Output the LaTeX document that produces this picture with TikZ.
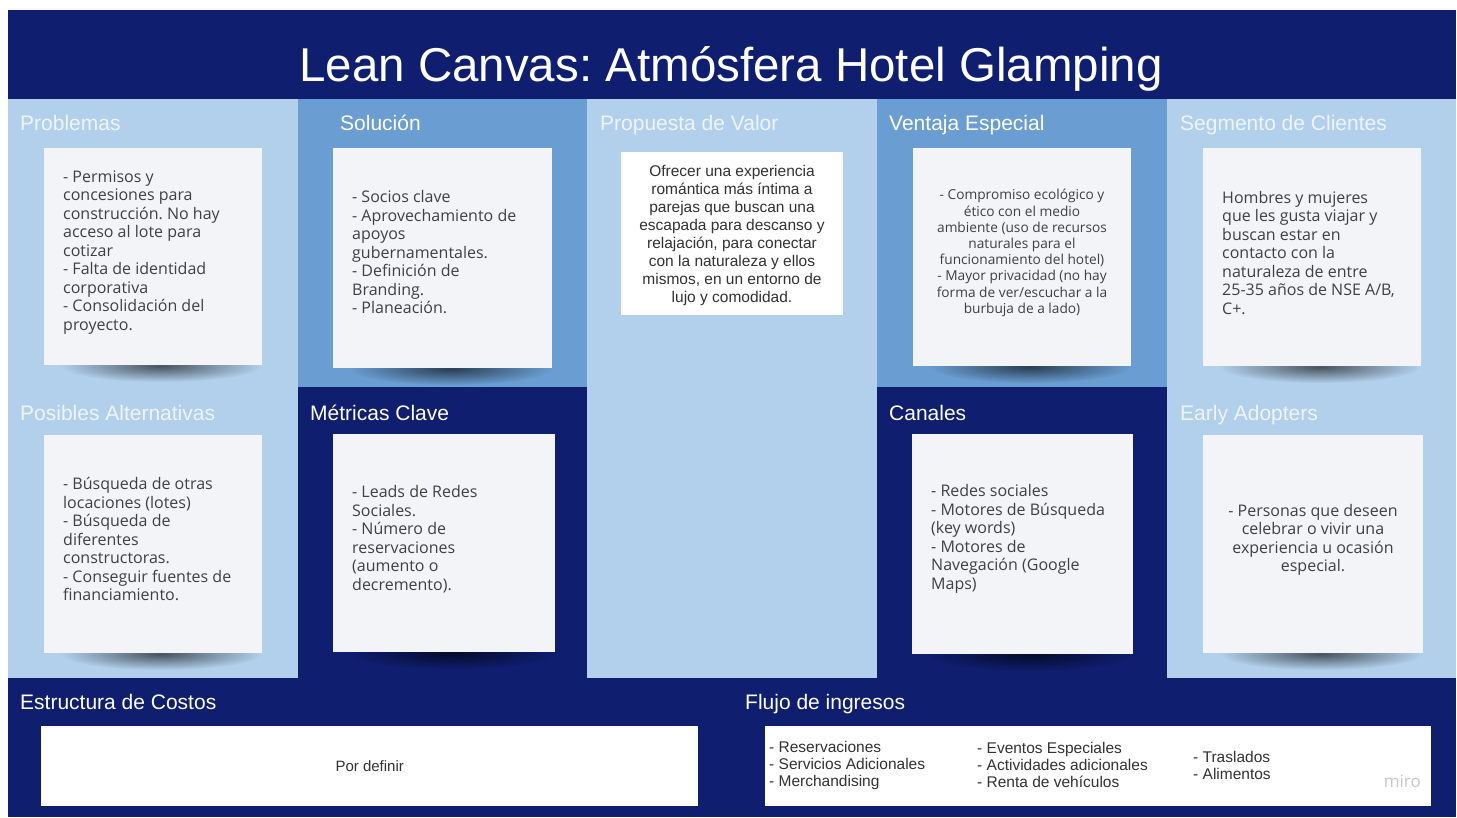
\documentclass[tikz,border=0pt]{standalone}
\usepackage{fontspec}
\usetikzlibrary{fadings}
\setmainfont{Liberation Sans}
\newfontfamily\notefont{Open Sans}
\definecolor{navy}{RGB}{15,30,110}
\definecolor{lblue}{RGB}{178,208,236}
\definecolor{mblue}{RGB}{106,157,209}
\definecolor{notebg}{RGB}{243,244,247}
\definecolor{notetx}{RGB}{64,64,64}
\definecolor{hdrlight}{RGB}{238,244,250}
\definecolor{proptx}{RGB}{50,50,50}
\tikzfading[name=shfade, inner color=transparent!40, outer color=transparent!100]
\newcommand{\noteshadow}[4]{%
  \fill[black, path fading=shfade] ({(#1+#3)/2+8},{#4+1}) ellipse ({(#3-#1)*0.46} and 16);
}
\begin{document}
\frenchspacing
\begin{tikzpicture}[x=1pt,y=-1pt,
  hdr/.style={anchor=base west, font=\fontsize{21}{25}\selectfont, text=white, inner sep=0pt},
  hdrl/.style={hdr, text=hdrlight},
  note/.style={fill=notebg, draw=none, inner sep=0pt, anchor=north west},
  wbox/.style={fill=white, draw=none, inner sep=0pt, anchor=north west},
  ntext/.style={font=\notefont\fontsize{16}{18.5}\selectfont, text=notetx, inner sep=0pt, align=left, anchor=west},
  ctext/.style={ntext, align=center, anchor=center},
  btext/.style={font=\fontsize{15.5}{17}\selectfont, text=proptx, inner sep=0pt, align=left, anchor=west}
]
\useasboundingbox (0,0) rectangle (1457,817);
\fill[white] (0,0) rectangle (1457,817);
% panels
\fill[navy] (8,10) rectangle (1456,99);
\fill[lblue] (8,99) rectangle (298,678);
\fill[mblue] (298,99) rectangle (587,387);
\fill[navy] (298,387) rectangle (587,678);
\fill[lblue] (587,99) rectangle (877,678);
\fill[mblue] (877,99) rectangle (1167,387);
\fill[navy] (877,387) rectangle (1167,678);
\fill[lblue] (1167,99) rectangle (1456,678);
\fill[navy] (8,678) rectangle (1456,817);
% title
\node[anchor=base, font=\fontsize{47.5}{52}\selectfont, text=white, inner sep=0pt] (title) at (731,81) {Lean Canvas: Atmósfera Hotel Glamping};
% headers
\node[hdrl] (hprob) at (20,130) {Problemas};
\node[hdr] (hsol) at (340,130) {Solución};
\node[hdrl] (hprop) at (600,130) {Propuesta de Valor};
\node[hdr] (hvent) at (889,130) {Ventaja Especial};
\node[hdrl] (hseg) at (1180,130) {Segmento de Clientes};
\node[hdrl] (halt) at (20,420) {Posibles Alternativas};
\node[hdr] (hmet) at (310,420) {Métricas Clave};
\node[hdr] (hcan) at (889,420) {Canales};
\node[hdrl] (hearly) at (1180,420) {Early Adopters};
\node[hdr] (hcost) at (20,709) {Estructura de Costos};
\node[hdr] (hflujo) at (745,709) {Flujo de ingresos};
% shadows
\noteshadow{44}{148}{262}{365}
\noteshadow{333}{148}{552}{368}
\noteshadow{913}{148}{1131}{366}
\noteshadow{1203}{148}{1421}{366}
\noteshadow{44}{435}{262}{653}
\noteshadow{333}{434}{555}{652}
\noteshadow{912}{434}{1133}{654}
\noteshadow{1203}{435}{1423}{653}
% notes
\node[note, minimum width=218pt, minimum height=217pt] (nprob) at (44,148) {};
\node[note, minimum width=219pt, minimum height=220pt] (nsol) at (333,148) {};
\node[wbox, minimum width=222pt, minimum height=163pt] (nprop) at (621,152) {};
\node[note, minimum width=218pt, minimum height=218pt] (nvent) at (913,148) {};
\node[note, minimum width=218pt, minimum height=218pt] (nseg) at (1203,148) {};
\node[note, minimum width=218pt, minimum height=218pt] (nalt) at (44,435) {};
\node[note, minimum width=222pt, minimum height=218pt] (nmet) at (333,434) {};
\node[note, minimum width=221pt, minimum height=220pt] (ncan) at (912,434) {};
\node[note, minimum width=220pt, minimum height=218pt] (nearly) at (1203,435) {};
% note texts
\node[ntext] (tprob) at (63,252.5) {- Permisos y\\concesiones para\\construcción. No hay\\acceso al lote para\\cotizar\\- Falta de identidad\\corporativa\\- Consolidación del\\proyecto.};
\node[ntext] (tsol) at (352,252.5) {- Socios clave\\- Aprovechamiento de\\apoyos\\gubernamentales.\\- Definición de\\Branding.\\- Planeación.};
\node[font=\fontsize{15.5}{18}\selectfont, text=proptx, inner sep=0pt, align=center] (tprop) at (732,235) {Ofrecer una experiencia\\romántica más íntima a\\parejas que buscan una\\escapada para descanso y\\relajación, para conectar\\con la naturaleza y ellos\\mismos, en un entorno de\\lujo y comodidad.};
\node[ctext, font=\notefont\fontsize{13.7}{16.2}\selectfont] (tvent) at (1022,253) {- Compromiso ecológico y\\ético con el medio\\ambiente (uso de recursos\\naturales para el\\funcionamiento del hotel)\\- Mayor privacidad (no hay\\forma de ver/escuchar a la\\burbuja de a lado)};
\node[ntext] (tseg) at (1222,253) {Hombres y mujeres\\que les gusta viajar y\\buscan estar en\\contacto con la\\naturaleza de entre\\25-35 años de NSE A/B,\\C+.};
\node[ntext] (talt) at (63,539) {- Búsqueda de otras\\locaciones (lotes)\\- Búsqueda de\\diferentes\\constructoras.\\- Conseguir fuentes de\\financiamiento.};
\node[ntext] (tmet) at (352,539) {- Leads de Redes\\Sociales.\\- Número de\\reservaciones\\(aumento o\\decremento).};
\node[ntext] (tcan) at (931,539) {- Redes sociales\\- Motores de Búsqueda\\(key words)\\- Motores de\\Navegación (Google\\Maps)};
\node[ctext] (tearly) at (1313,540) {- Personas que deseen\\celebrar o vivir una\\experiencia u ocasión\\especial.};
% bottom boxes
\node[wbox, minimum width=657pt, minimum height=80pt] (bcost) at (41,726) {};
\node[font=\fontsize{15}{17}\selectfont, text=proptx, inner sep=0pt] (tcost) at (bcost.center) {Por definir};
\node[wbox, minimum width=666pt, minimum height=80pt] (bflujo) at (765,726) {};
\node[btext] (tf1) at (769,765) {- Reservaciones\\- Servicios Adicionales\\- Merchandising};
\node[btext] (tf2) at (977,765) {- Eventos Especiales\\- Actividades adicionales\\- Renta de vehículos};
\node[btext] (tf3) at (1193,765.5) {- Traslados\\- Alimentos};
\node[anchor=base east, font=\notefont\fontsize{17}{20}\selectfont, text=black!22, inner sep=0pt] (miro) at (1421,787) {miro};
\end{tikzpicture}
\end{document}
